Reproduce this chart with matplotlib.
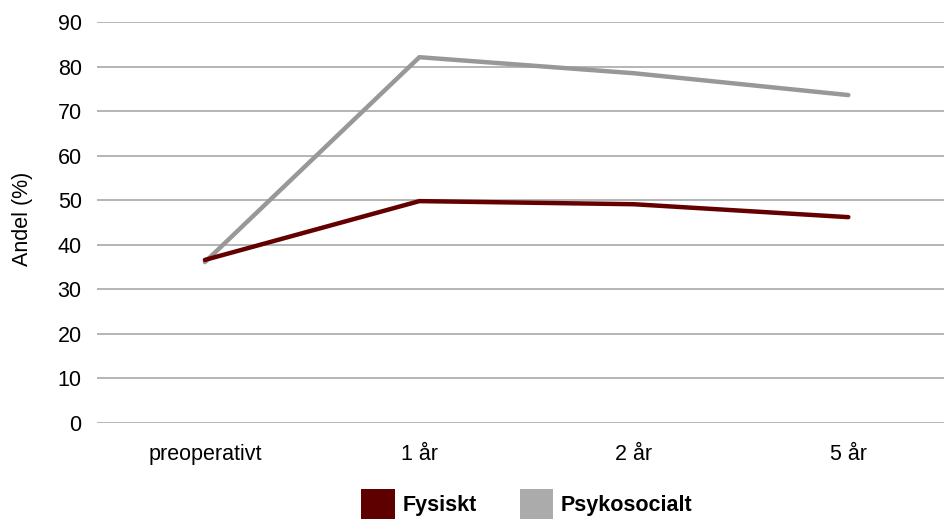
import matplotlib.pyplot as plt
from matplotlib.patches import Patch

plt.rcParams['font.family'] = ['Liberation Sans', 'DejaVu Sans']

# Andel patienter per tidpunkt
tidpunkter = ['preoperativt', '1 år', '2 år', '5 år']
fysiskt = [36.6, 49.8, 49.1, 46.2]
psykosocialt = [36.1, 82.1, 78.5, 73.6]
yticks = [0, 10, 20, 30, 40, 50, 60, 70, 80, 90]

fig = plt.figure(figsize=(9.44, 5.21), dpi=100)
ax = fig.add_axes([97 / 944, 98 / 521, 847 / 944, 401 / 521])

x = range(len(tidpunkter))
ax.plot(x, psykosocialt, color='#9a9896', linewidth=3.2, solid_capstyle='round', zorder=3)
ax.plot(x, fysiskt, color='#640000', linewidth=3.2, solid_capstyle='round', zorder=4)

ax.set_xlim(-0.503, 3.446)
ax.set_ylim(0, 90)
ax.set_yticks(yticks)
ax.set_xticks(list(x))
ax.set_xticklabels(tidpunkter)
ax.yaxis.grid(True, color='#a8a8a8', linewidth=1.2)
ax.set_axisbelow(True)
for s in ax.spines.values():
    s.set_visible(False)
ax.tick_params(axis='both', length=0, labelsize=15.5, colors='#000000')
ax.tick_params(axis='y', pad=11)
ax.tick_params(axis='x', pad=15)
ax.set_ylabel('Andel (%)', fontsize=15.5)
ax.yaxis.set_label_coords(-0.075, 0.51)

handles = [Patch(facecolor='#5e0000', edgecolor='none', label='Fysiskt'),
           Patch(facecolor='#ababab', edgecolor='none', label='Psykosocialt')]
fig.legend(handles=handles, loc='center', bbox_to_anchor=(0.558, 17 / 521), ncol=2,
           frameon=False, prop={'weight': 'bold', 'size': 15.5},
           handlelength=1.55, handleheight=1.75, handletextpad=0.35, columnspacing=2.0)

fig.savefig('out.png', dpi=100)
